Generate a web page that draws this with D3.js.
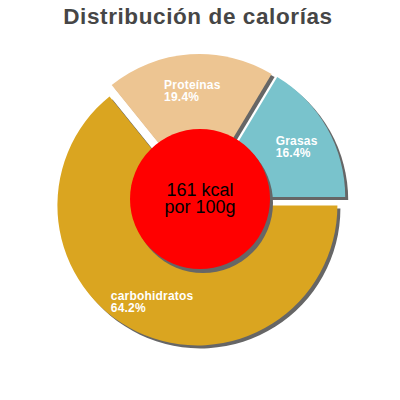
<!DOCTYPE html>
<html>
<head>
<meta charset="utf-8">
<script src="https://cdn.jsdelivr.net/npm/d3@7"></script>
<style>
    body { margin: 0; background: #ffffff; }
    svg { display: block; }
</style>
</head>
<body>
<div id="chart"></div>
<script>
// chart data
const title = "Distribución de calorías";
const categories = ["carbohidratos", "Proteínas", "Grasas"];
const percents = [64.2, 19.4, 16.4];
const colors = ["#daa520", "#edc592", "#79c3cc"];
const centerLines = ["161 kcal", "por 100g"];

const width = 400;
const height = 400;
const cx = 200;
const cy = 200;
const radius = 140;
const holeRadius = 70;
const explode = 6;
const labelRadius = 111;
const shadowOffset = 3;

const svg = d3.select("#chart")
    .append("svg")
    .attr("width", width)
    .attr("height", height);

svg.append("text")
    .attr("x", 198)
    .attr("y", 24)
    .attr("text-anchor", "middle")
    .style("font-family", "'Liberation Sans', Arial, sans-serif")
    .style("font-size", "22.5px")
    .style("font-weight", "bold")
    .style("letter-spacing", "0.6px")
    .style("fill", "#464646")
    .text(title);

const data = categories.map((c, i) => ({ name: c, value: percents[i], color: colors[i] }));

// d3 angles start at 12 o'clock, the chart starts at 3 o'clock
const pie = d3.pie()
    .sort(null)
    .value((d) => d.value)
    .startAngle(Math.PI / 2)
    .endAngle(Math.PI / 2 + 2 * Math.PI);

const arc = d3.arc()
    .innerRadius(0)
    .outerRadius(radius);

const arcs = pie(data);

function offset(d, r) {
    const mid = (d.startAngle + d.endAngle) / 2;
    return [Math.sin(mid) * r, -Math.cos(mid) * r];
}

const pieGroup = svg.append("g")
    .attr("transform", `translate(${cx},${cy})`);

// shadows first
pieGroup.selectAll(".slice-shadow")
    .data(arcs)
    .enter()
    .append("path")
    .attr("class", "slice-shadow")
    .attr("d", arc)
    .attr("transform", (d) => {
        const o = offset(d, explode);
        return `translate(${o[0] + shadowOffset},${o[1] + shadowOffset})`;
    })
    .style("fill", "#666666");

pieGroup.selectAll(".slice")
    .data(arcs)
    .enter()
    .append("path")
    .attr("class", "slice")
    .attr("d", arc)
    .attr("transform", (d) => {
        const o = offset(d, explode);
        return `translate(${o[0]},${o[1]})`;
    })
    .style("fill", (d) => d.data.color);

// slice labels
const labels = pieGroup.selectAll(".slice-label")
    .data(arcs)
    .enter()
    .append("text")
    .attr("class", "slice-label")
    .style("font-family", "'Liberation Sans', Arial, sans-serif")
    .style("font-size", "12px")
    .style("font-weight", "bold")
    .style("letter-spacing", "0.2px")
    .style("fill", "#ffffff");

labels.append("tspan")
    .attr("class", "lbl-name")
    .text((d) => d.data.name);
labels.append("tspan")
    .attr("class", "lbl-pct")
    .text((d) => d.data.value.toFixed(1) + "%");

labels.each(function (d) {
    const el = d3.select(this);
    const p = offset(d, labelRadius);
    const w = el.select(".lbl-name").node().getComputedTextLength();
    const x0 = p[0] - w / 2;
    el.select(".lbl-name").attr("x", x0).attr("y", p[1]);
    el.select(".lbl-pct").attr("x", x0).attr("y", p[1] + 12);
});

// center disc
pieGroup.append("circle")
    .attr("cx", shadowOffset)
    .attr("cy", shadowOffset)
    .attr("r", holeRadius)
    .style("fill", "#666666");

pieGroup.append("circle")
    .attr("cx", 0)
    .attr("cy", -1)
    .attr("r", holeRadius)
    .style("fill", "#ff0000");

pieGroup.append("text")
    .attr("text-anchor", "middle")
    .style("font-family", "'Liberation Sans', Arial, sans-serif")
    .style("font-size", "18px")
    .style("fill", "#000000")
    .selectAll("tspan")
    .data(centerLines)
    .enter()
    .append("tspan")
    .attr("x", 0)
    .attr("y", (d, i) => -4 + i * 17)
    .text((d) => d);
</script>
</body>
</html>
